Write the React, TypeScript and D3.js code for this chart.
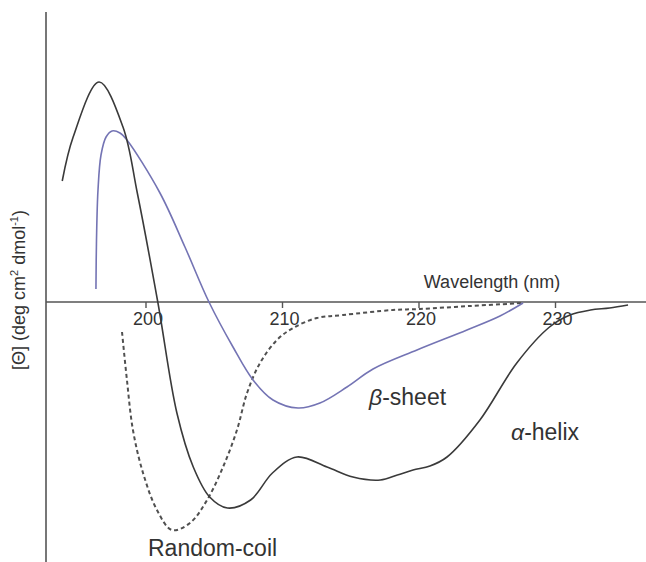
import React, { useEffect, useRef } from "react";
import * as d3 from "d3";

// Far-UV CD reference spectra: wavelength (nm) vs. mean residue ellipticity (arbitrary ×10³ units)
const helixWavelength = [193.9, 194.7, 196.6, 198.35, 199.4, 200.9, 202.3, 203.5, 204.7, 206.0, 207.7, 209.3, 211.1, 213.3, 215.2, 217.2, 218.45, 219.6, 220.84, 222.09, 224.5, 227.2, 229.6, 231.1, 232.6, 234.0, 235.35];
const helixValues = [24.2, 33, 44, 35, 21.8, 0, -22.2, -33, -39, -41.2, -39.6, -34.2, -31, -33, -35, -35.6, -34.6, -33.6, -32.8, -31, -23.6, -12.2, -5, -2.6, -1.6, -1.2, -0.6];

const sheetWavelength = [196.37, 196.41, 196.52, 196.74, 197.11, 197.55, 198.13, 198.64, 201.06, 202.89, 204.65, 206.41, 207.88, 209.34, 211.17, 212.78, 214.76, 216.67, 219.89, 223.55, 225.97, 227.66];
const sheetValues = [2.6, 12.4, 22.4, 29.4, 33, 34.2, 33.8, 32.4, 21.8, 11, 0, -9, -15.6, -19.6, -21.2, -20.2, -17, -13.4, -9.6, -5.6, -2.8, -0.2];

const coilWavelength = [198.28, 198.64, 199.08, 199.82, 200.84, 201.94, 203.26, 204.51, 205.68, 206.7, 207.44, 208.39, 209.63, 210.81, 212.56, 214.47, 218.13, 220.11, 223.77, 227.66];
const coilValues = [-6, -15.6, -25.6, -34.2, -41.6, -45.6, -44.2, -39.6, -33, -25.6, -18.2, -12.2, -7.6, -5.2, -3.2, -2.6, -1.6, -1.4, -0.8, -0.2];

const tickValues = [200, 210, 220, 230];

const W = 646;
const H = 562;
const FONT = "'Liberation Sans', Arial, sans-serif";

type Pt = [number, number];
const zip = (a: number[], b: number[]): Pt[] => a.map((v, i) => [v, b[i]]);

export default function App() {
  const ref = useRef<SVGSVGElement | null>(null);

  useEffect(() => {
    document.body.style.margin = "0";
    const svg = d3.select(ref.current);
    svg.selectAll("*").remove();

    const x = d3.scaleLinear().domain([200, 230]).range([145.5, 555]);
    const y = d3.scaleLinear().domain([0, 44]).range([302, 82]);

    svg.append("rect").attr("width", W).attr("height", H).attr("fill", "#fff");

    // axes lines
    svg.append("line")
      .attr("x1", 46).attr("x2", 46).attr("y1", 12).attr("y2", H)
      .attr("stroke", "#555").attr("stroke-width", 1.6);
    svg.append("line")
      .attr("x1", 46).attr("x2", W).attr("y1", y(0)).attr("y2", y(0))
      .attr("stroke", "#555").attr("stroke-width", 1.6);

    const axis = d3.axisBottom(x).tickValues(tickValues).tickSize(6).tickPadding(4).tickFormat(d3.format("d"));
    const g = svg.append("g").attr("transform", `translate(0,${y(0)})`).call(axis);
    g.select(".domain").remove();
    g.selectAll(".tick line").attr("stroke", "#555").attr("stroke-width", 1.4);
    g.selectAll(".tick text")
      .attr("font-family", FONT).attr("font-size", 18).attr("fill", "#333")
      .attr("dx", 2);

    const line = d3.line<Pt>()
      .x((d) => x(d[0]))
      .y((d) => y(d[1]))
      .curve(d3.curveCatmullRom.alpha(0.5));

    svg.append("path").attr("d", line(zip(coilWavelength, coilValues)))
      .attr("fill", "none").attr("stroke", "#505050").attr("stroke-width", 2)
      .attr("stroke-dasharray", "4 3");
    svg.append("path").attr("d", line(zip(sheetWavelength, sheetValues)))
      .attr("fill", "none").attr("stroke", "#7474b4").attr("stroke-width", 1.6);
    svg.append("path").attr("d", line(zip(helixWavelength, helixValues)))
      .attr("fill", "none").attr("stroke", "#3a3a3a").attr("stroke-width", 1.6);

    // axis titles
    svg.append("text").attr("x", 492).attr("y", 288).attr("text-anchor", "middle")
      .attr("font-family", FONT).attr("font-size", 18).attr("fill", "#333")
      .text("Wavelength (nm)");

    const yl = svg.append("text")
      .attr("transform", "translate(25,290) rotate(-90)")
      .attr("text-anchor", "middle")
      .attr("font-family", FONT).attr("font-size", 18).attr("fill", "#333");
    yl.append("tspan").text("[Θ] (deg cm");
    yl.append("tspan").attr("font-size", 11).attr("dy", -7).text("2");
    yl.append("tspan").attr("dy", 7).text(" dmol");
    yl.append("tspan").attr("font-size", 11).attr("dy", -7).text("-1");
    yl.append("tspan").attr("dy", 7).text(")");

    // curve labels
    const lbl = (tx: number, ty: number, greek: string | null, rest: string) => {
      const t = svg.append("text").attr("x", tx).attr("y", ty)
        .attr("font-family", FONT).attr("font-size", 23).attr("fill", "#333");
      if (greek) t.append("tspan").attr("font-style", "italic").text(greek);
      t.append("tspan").text(rest);
    };
    lbl(369, 405, "β", "-sheet");
    lbl(511, 440, "α", "-helix");
    lbl(148, 556, null, "Random-coil");
  }, []);

  return (
    <svg ref={ref} width={W} height={H} style={{ display: "block" }} />
  );
}
